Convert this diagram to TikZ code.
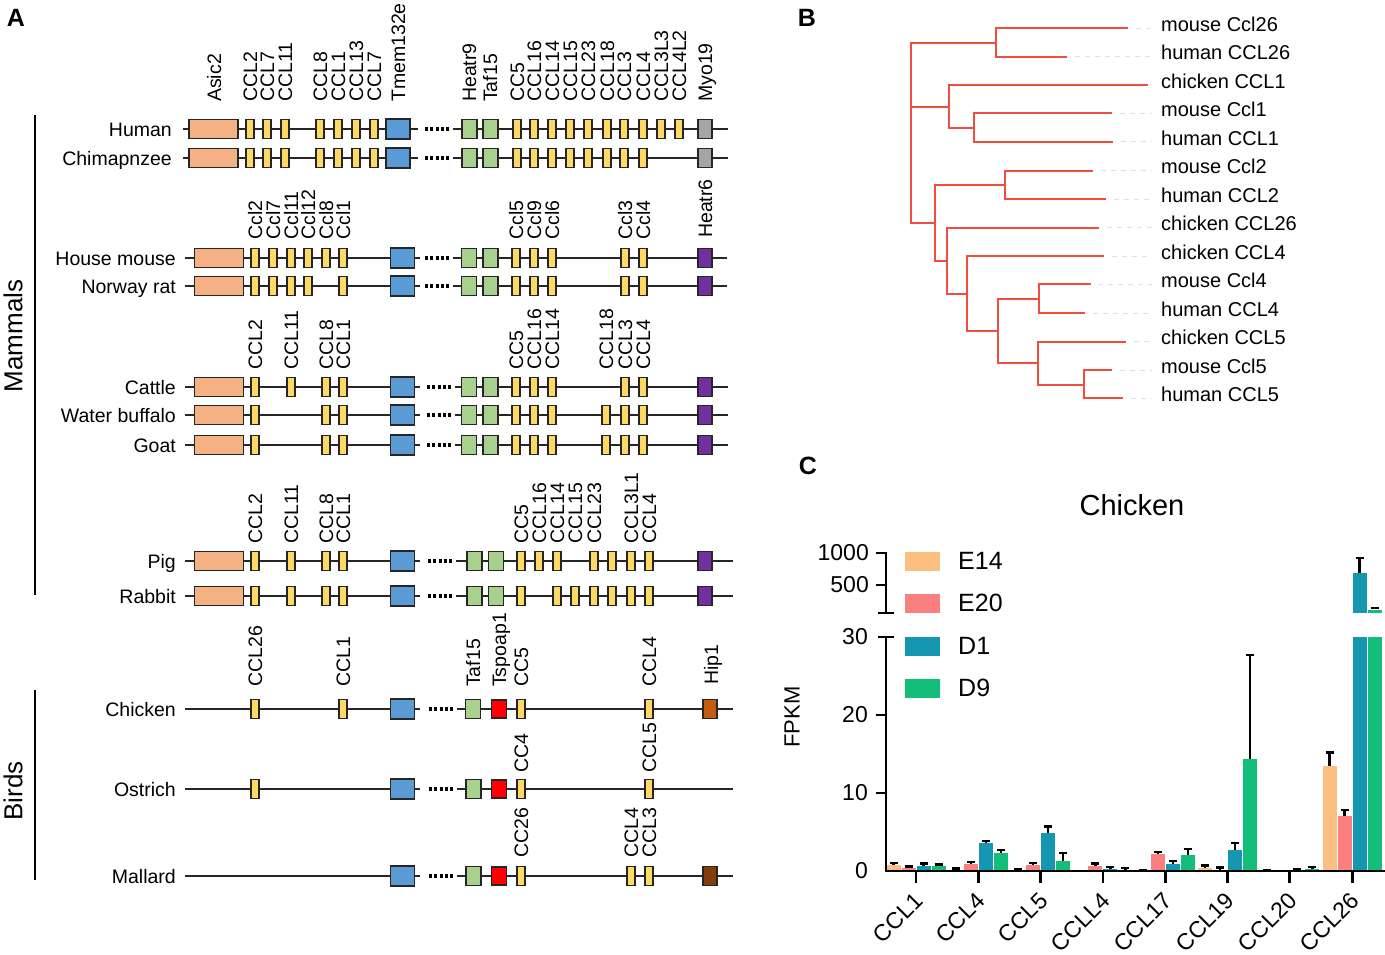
\documentclass[tikz,border=0pt]{standalone}
\usepackage{fontspec}
\setmainfont{Liberation Sans}
\newcommand\fs[1]{\fontsize{#1}{#1}\selectfont}
\definecolor{cOr}{HTML}{F4B183}
\definecolor{cYe}{HTML}{FFD966}
\definecolor{cBl}{HTML}{5B9BD5}
\definecolor{cGr}{HTML}{A9D18E}
\definecolor{cGy}{HTML}{A5A5A5}
\definecolor{cPu}{HTML}{7030A0}
\definecolor{cRd}{HTML}{FF0000}
\definecolor{cHip}{HTML}{C55A11}
\definecolor{cDk}{HTML}{843C0C}
\definecolor{cTr}{HTML}{F24B3F}
\definecolor{cE}{HTML}{FCBF7F}
\definecolor{cF}{HTML}{FA7F7F}
\definecolor{cD}{HTML}{1697B1}
\definecolor{cG}{HTML}{13BE7A}
\newcommand\rowline[6]{%
  \coordinate (#1S) at (#3,#2); \coordinate (#1E) at (#6,#2);
  \draw[bb] (#1S) -- (#4,#2);
  \draw[dts] (#5,#2) -- (#5+24,#2);
  \draw[bb] (#5+28,#2) -- (#1E);}
\newcommand\yelrow[3]{\foreach \x in {#3} \node[yel] (#1y\x) at (\x,#2) {};}
\newcommand\glabs[3]{\foreach \x/\t in {#3} \node[glab] (#1l\x) at (\x+7,#2) {\t};}
\newcommand\mybar[4]{%
  \fill[#4] (#1-7,871) rectangle (#1+7,871-7.8*#2);
  \draw[eb] (#1,871-7.8*#2) -- (#1,871-7.8*#3);
  \draw[eb] (#1-4,871-7.8*#3) -- (#1+4,871-7.8*#3);}
\begin{document}
\begin{tikzpicture}[x=1pt,y=-1pt,
 gb/.style={draw=black!85,line width=1.3pt,inner sep=0,minimum height=19pt},
 orng/.style={gb,fill=cOr,minimum width=49pt},
 yel/.style={gb,fill=cYe,minimum width=8pt},
 blu/.style={gb,fill=cBl,minimum width=24pt,minimum height=20pt},
 grn/.style={gb,fill=cGr,minimum width=15pt},
 gry/.style={gb,fill=cGy,minimum width=14pt},
 pur/.style={gb,fill=cPu,minimum width=14pt},
 redb/.style={gb,fill=cRd,minimum width=15pt,minimum height=18pt},
 hipb/.style={gb,fill=cHip,minimum width=14pt},
 dkb/.style={gb,fill=cDk,minimum width=14pt},
 bb/.style={line width=1.8pt,black!85},
 dts/.style={line width=3.2pt,dash pattern=on 3pt off 2.3pt},
 glab/.style={rotate=90,anchor=base west,inner sep=0,font=\fs{19.5}},
 sp/.style={anchor=base east,inner sep=0,font=\fs{19.5}},
 tr/.style={line width=2pt,cTr},
 gd/.style={gray!25,line width=1pt,dash pattern=on 5pt off 5pt},
 tl/.style={anchor=base west,inner sep=0,font=\fs{20}},
 ax/.style={line width=2.8pt,black},
 eb/.style={line width=2.4pt,black},
 yl/.style={anchor=east,inner sep=0,font=\fs{23}},
 xl/.style={rotate=45,anchor=east,inner sep=0,font=\fs{23}},
 pl/.style={inner sep=0,font=\bfseries\fs{25}}]
\useasboundingbox (0,0) rectangle (1385,954);

% ---------- panel labels
\node[pl] (pA) at (16,18) {A};
\node[pl] (pB) at (807,18) {B};
\node[pl] (pC) at (808,466) {C};

% ---------- group brackets
\coordinate (mT) at (35,115); \coordinate (mB) at (35,595);
\draw[line width=1.5pt] (mT) -- (mB);
\node[rotate=90,inner sep=0,font=\fs{26}] (mam) at (13,336) {Mammals};
\coordinate (bT) at (35,690); \coordinate (bB) at (35,880);
\draw[line width=1.5pt] (bT) -- (bB);
\node[rotate=90,inner sep=0,font=\fs{26}] (bir) at (13,791) {Birds};

% ---------- Human
\rowline{hu}{129}{183}{418}{425}{728}
\node[orng] (huO) at (213.5,129) {};
\yelrow{hu}{129}{250,267,285,320,338,356,374,517,534,552,570,588,607,624,643,661,679}
\node[blu] (huB) at (398,129) {};
\node[grn] (huG1) at (469.5,129) {}; \node[grn] (huG2) at (490.5,129) {};
\node[gry] (huM) at (705,129) {};
\node[sp] (huN) at (172,136) {Human};
\glabs{hu}{102}{214/Asic2,250/CCL2,267/CCL7,285/CCL11,320/CCL8,338/CCL1,356/CCL13,374/CCL7,398/Tmem132e,469/Heatr9,490/Taf15,517/CC5,534/CCL16,552/CCL14,570/CCL15,588/CCL23,607/CCL18,624/CCL3,643/CCL4,661/CCL3L3,679/CCL4L2,705/Myo19}

% ---------- Chimpanzee
\rowline{ch}{158}{183}{418}{425}{728}
\node[orng] (chO) at (213.5,158) {};
\yelrow{ch}{158}{250,267,285,320,338,356,374,517,534,552,570,588,607,624,643}
\node[blu] (chB) at (398,158) {};
\node[grn] (chG1) at (469.5,158) {}; \node[grn] (chG2) at (490.5,158) {};
\node[gry] (chM) at (705,158) {};
\node[sp] (chN) at (172,165) {Chimapnzee};

% ---------- House mouse
\rowline{mo}{258}{185}{420}{425}{727}
\node[orng] (moO) at (219,258) {};
\yelrow{mo}{258}{255,273,291,308,326,343,516,534,552,625,643}
\node[blu] (moB) at (402.5,258) {};
\node[grn] (moG1) at (469,258) {}; \node[grn] (moG2) at (490.5,258) {};
\node[pur] (moP) at (705,258) {};
\node[sp] (moN) at (176,265) {House mouse};
\glabs{mo}{240}{255/Ccl2,273/Ccl7,291/Ccl11,308/Ccl12,326/Ccl8,343/Ccl1,516/Ccl5,534/Ccl9,552/Ccl6,625/Ccl3,643/Ccl4}
\node[glab] (moH) at (712,238) {Heatr6};

% ---------- Norway rat
\rowline{ra}{286}{185}{420}{425}{727}
\node[orng] (raO) at (219,286) {};
\yelrow{ra}{286}{255,273,291,308,343,516,534,552,625,643}
\node[blu] (raB) at (402.5,286) {};
\node[grn] (raG1) at (469,286) {}; \node[grn] (raG2) at (490.5,286) {};
\node[pur] (raP) at (705,286) {};
\node[sp] (raN) at (176,293) {Norway rat};

% ---------- Cattle
\rowline{ca}{387}{185}{420}{427}{728}
\node[orng] (caO) at (219,387) {};
\yelrow{ca}{387}{255,291,326,343,516,534,552,625,643}
\node[blu] (caB) at (402.5,387) {};
\node[grn] (caG1) at (469,387) {}; \node[grn] (caG2) at (490.5,387) {};
\node[pur] (caP) at (705,387) {};
\node[sp] (caN) at (176,394) {Cattle};
\glabs{ca}{370}{255/CCL2,291/CCL11,326/CCL8,343/CCL1,516/CC5,534/CCL16,552/CCL14,606/CCL18,625/CCL3,643/CCL4}

% ---------- Water buffalo
\rowline{wb}{415}{185}{420}{427}{728}
\node[orng] (wbO) at (219,415) {};
\yelrow{wb}{415}{255,326,343,516,534,552,606,625,643}
\node[blu] (wbB) at (402.5,415) {};
\node[grn] (wbG1) at (469,415) {}; \node[grn] (wbG2) at (490.5,415) {};
\node[pur] (wbP) at (705,415) {};
\node[sp] (wbN) at (176,422) {Water buffalo};

% ---------- Goat
\rowline{go}{445}{185}{420}{427}{728}
\node[orng] (goO) at (219,445) {};
\yelrow{go}{445}{255,326,343,516,534,552,606,625,643}
\node[blu] (goB) at (402.5,445) {};
\node[grn] (goG1) at (469,445) {}; \node[grn] (goG2) at (490.5,445) {};
\node[pur] (goP) at (705,445) {};
\node[sp] (goN) at (176,452) {Goat};

% ---------- Pig
\rowline{pi}{561}{185}{420}{428}{733}
\node[orng] (piO) at (219,561) {};
\yelrow{pi}{561}{255,291,326,343,521,539,557,594,612,631,649}
\node[blu] (piB) at (402.5,561) {};
\node[grn] (piG1) at (474.5,561) {}; \node[grn] (piG2) at (496,561) {};
\node[pur] (piP) at (705,561) {};
\node[sp] (piN) at (176,568) {Pig};
\glabs{pi}{544}{255/CCL2,291/CCL11,326/CCL8,343/CCL1,521/CC5,539/CCL16,557/CCL14,575/CCL15,594/CCL23,631/CCL3L1,649/CCL4}

% ---------- Rabbit
\rowline{rb}{596}{185}{420}{428}{733}
\node[orng] (rbO) at (219,596) {};
\yelrow{rb}{596}{255,291,326,343,521,557,575,594,612,631,649}
\node[blu] (rbB) at (402.5,596) {};
\node[grn] (rbG1) at (474.5,596) {}; \node[grn] (rbG2) at (496,596) {};
\node[pur] (rbP) at (705,596) {};
\node[sp] (rbN) at (176,603) {Rabbit};

% ---------- Chicken
\rowline{ck}{709}{185}{420}{429}{733}
\yelrow{ck}{709}{255,343,521,649}
\node[blu] (ckB) at (402.5,709) {};
\node[grn] (ckG) at (473,709) {};
\node[redb] (ckR) at (499,709) {};
\node[hipb] (ckH) at (710,709) {};
\node[sp] (ckN) at (176,716) {Chicken};
\glabs{ck}{687}{255/CCL26,343/CCL1,473/Taf15,499/Tspoap1,521/CC5,649/CCL4}
\node[glab] (ckHl) at (718,685) {Hip1};

% ---------- Ostrich
\rowline{os}{789}{185}{420}{429}{733}
\yelrow{os}{789}{255,521,649}
\node[blu] (osB) at (402.5,789) {};
\node[grn] (osG) at (473.5,789) {};
\node[redb] (osR) at (499,789) {};
\node[sp] (osN) at (176,796) {Ostrich};
\glabs{os}{773}{521/CC4,649/CCL5}

% ---------- Mallard
\rowline{ma}{876}{185}{420}{429}{733}
\yelrow{ma}{876}{521,631,649}
\node[blu] (maB) at (402.5,876) {};
\node[grn] (maG) at (473.5,876) {};
\node[redb] (maR) at (499,876) {};
\node[dkb] (maD) at (710,876) {};
\node[sp] (maN) at (176,883) {Mallard};
\glabs{ma}{858}{521/CC26,631/CCL4,649/CCL3}

% ================= Panel B : tree
\foreach \tx/\ty in {1136/28.3,1075/56.7,1120/113.3,1121/141.7,1101/170.7,1114/199,1107/227.7,1112/256,1098/284.3,1093/313.3,1134/341.7,1120/370,1131/398.3}
  \draw[gd] (\tx,\ty) -- (1152,\ty);
\draw[tr] (1128,28.3) -| (996,56.7) -- (1067,56.7);
\draw[tr] (1112,113.3) -| (974,141.7) -- (1113,141.7);
\draw[tr] (1148,85) -| (949,128.3) -- (974,128.3);
\draw[tr] (1093,170.7) -| (1004.7,199) -- (1106,199);
\draw[tr] (1090.7,284.3) -| (1039.3,313.3) -- (1085,313.3);
\draw[tr] (1112.3,370) -| (1084,398.3) -- (1123.3,398.3);
\draw[tr] (1126,341.7) -| (1038.3,385) -- (1084,385);
\draw[tr] (1039.3,299) -| (998.3,362.7) -- (1038.3,362.7);
\draw[tr] (1104,256) -| (967.3,331) -- (998.3,331);
\draw[tr] (1099,227.7) -| (946.7,294) -- (967.3,294);
\draw[tr] (1004.7,185) -| (935,260.7) -- (946.7,260.7);
\draw[tr] (996,42.7) -| (911,222.7) -- (935,222.7);
\draw[tr] (911,106.7) -- (949,106.7);
\foreach \i/\t in {0/mouse Ccl26,1/human CCL26,2/chicken CCL1,3/mouse Ccl1,4/human CCL1,5/mouse Ccl2,6/human CCL2,7/chicken CCL26,8/chicken CCL4,9/mouse Ccl4,10/human CCL4,11/chicken CCL5,12/mouse Ccl5,13/human CCL5}
  \node[tl] (tip\i) at (1161,31.5+28.46*\i) {\t};

% ================= Panel C : bar chart
\node[inner sep=0,font=\fs{29}] (ttl) at (1132,505) {Chicken};
\node[rotate=90,inner sep=0,font=\fs{22}] (fpkm) at (792,717) {FPKM};
% legend
\foreach \yy/\cc/\t in {561/cE/E14,603/cF/E20,646/cD/D1,688/cG/D9}{
  \fill[\cc] (905,\yy-9.5) rectangle (940,\yy+9.5);
  \node[anchor=west,inner sep=0,font=\fs{25}] (lg\t) at (958,\yy) {\t};}
% bars
\foreach \c/\a/\ae/\b/\be/\d/\de/\g/\ge in {
 916/0.8/1.05/0.4/0.6/0.7/0.95/0.6/0.85,
 978.3/0.1/0.3/0.9/1.15/3.55/3.85/2.35/2.7,
 1040.6/0.05/0.2/0.75/1.0/4.9/5.7/1.3/2.3,
 1102.9/0/0/0.6/0.95/0.3/0.55/0.1/0.4,
 1165.2/0.05/0.1/2.15/2.45/0.85/1.3/2.1/2.85,
 1227.5/0.4/0.7/0.15/0.45/2.7/3.6/14.4/27.7,
 1289.8/0.05/0.05/0.02/0.02/0.1/0.25/0.25/0.5}{
  \mybar{\c-22.5}{\a}{\ae}{cE}
  \mybar{\c-7.5}{\b}{\be}{cF}
  \mybar{\c+7.5}{\d}{\de}{cD}
  \mybar{\c+22.5}{\g}{\ge}{cG}}
\mybar{1329.6}{13.5}{15.2}{cE}
\mybar{1344.6}{7.0}{7.8}{cF}
\fill[cD] (1352.6,871) rectangle (1366.6,637);
\fill[cG] (1367.6,871) rectangle (1381.6,637);
\fill[cD] (1352.6,613) rectangle (1366.6,573);
\draw[eb] (1359.6,573) -- (1359.6,558); \draw[eb] (1355.6,558) -- (1363.6,558);
\fill[cG] (1367.6,613) rectangle (1381.6,610);
\draw[eb] (1370.6,608) -- (1378.6,608);
% axes
\coordinate (ya) at (886,553); \coordinate (yb) at (886,613);
\coordinate (yc) at (886,637); \coordinate (yo) at (886,871); \coordinate (xe) at (1385,871);
\draw[ax] (876,553) -- (ya) -- (yb);
\draw[ax] (878,613) -- (894,613);
\draw[ax] (876,585) -- (886,585);
\draw[ax] (878,637) -- (894,637);
\draw[ax] (yc) -- (yo) -- (xe);
\draw[ax] (876,715) -- (886,715);
\draw[ax] (876,793) -- (886,793);
\node[yl] (y1000) at (869,553) {1000};
\node[yl] (y500) at (869,585) {500};
\node[yl] (y30) at (868,637) {30};
\node[yl] (y20) at (868,715) {20};
\node[yl] (y10) at (868,793) {10};
\node[yl] (y0) at (868,871) {0};
\foreach \c/\t in {916/CCL1,978.3/CCL4,1040.6/CCL5,1102.9/CCLL4,1165.2/CCL17,1227.5/CCL19,1289.8/CCL20,1352.1/CCL26}{
  \draw[ax] (\c,871) -- (\c,883);
  \node[xl] (x\t) at (\c+3,897) {\t};}
\end{tikzpicture}
\end{document}
